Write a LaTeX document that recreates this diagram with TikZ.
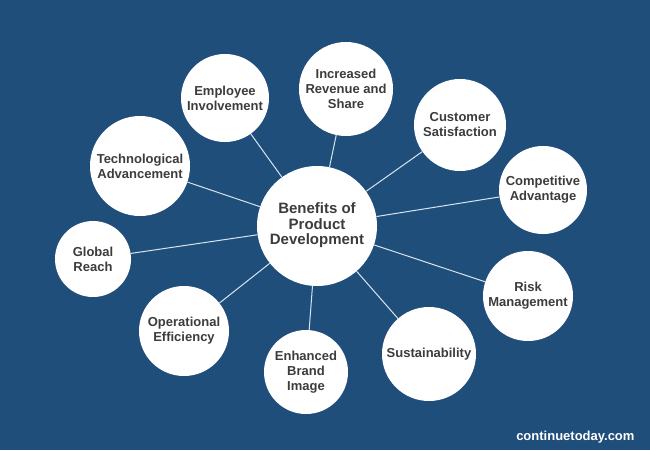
\documentclass[tikz,border=0pt]{standalone}
\usepackage{fontspec}
\setmainfont{Liberation Sans}
\definecolor{bgblue}{RGB}{32,78,122}
\definecolor{txtgray}{RGB}{60,60,60}
\definecolor{linec}{RGB}{214,228,240}
\begin{document}
\begin{tikzpicture}[x=1pt,y=-1pt,
  sat/.style={circle, fill=white, draw=none, minimum size=#1, inner sep=0pt, align=center, text=txtgray, font=\fontsize{13}{15}\selectfont\bfseries},
  hub/.style={circle, fill=white, draw=none, minimum size=120pt, inner sep=0pt, align=center, text=txtgray, font=\fontsize{15}{15}\selectfont\bfseries},
  conn/.style={draw=linec, line width=1pt}]
\fill[bgblue] (0,0) rectangle (650,450);
\useasboundingbox (0,0) rectangle (650,450);
\node[hub] (c) at (317,226) {\raisebox{-2pt}{\begin{tabular}{@{}c@{}}Benefits of\\Product\\Development\end{tabular}}};
\node[sat=88pt] (emp) at (225,98) {Employee\\Involvement};
\node[sat=94pt] (rev) at (346,89) {Increased\\Revenue and\\Share};
\node[sat=92pt] (cus) at (460,125) {Customer\\Satisfaction};
\node[sat=88pt] (com) at (543,190) {Competitive\\Advantage};
\node[sat=100pt] (tec) at (140,166) {Technological\\Advancement};
\node[sat=76pt] (glo) at (93,259) {Global\\Reach};
\node[sat=90pt] (ope) at (184,331) {Operational\\Efficiency};
\node[sat=84pt] (enh) at (306,372) {Enhanced\\Brand\\Image};
\node[sat=94pt] (sus) at (429,354) {Sustainability};
\node[sat=90pt] (ris) at (528,296) {Risk\\Management};
\foreach \n in {emp,rev,cus,com,tec,glo,ope,enh,sus,ris}
  \draw[conn] (c) -- (\n);
\node[text=white, font=\fontsize{13}{15}\selectfont\bfseries, anchor=east] (wm) at (638,437) {continuetoday.com};
\end{tikzpicture}
\end{document}
